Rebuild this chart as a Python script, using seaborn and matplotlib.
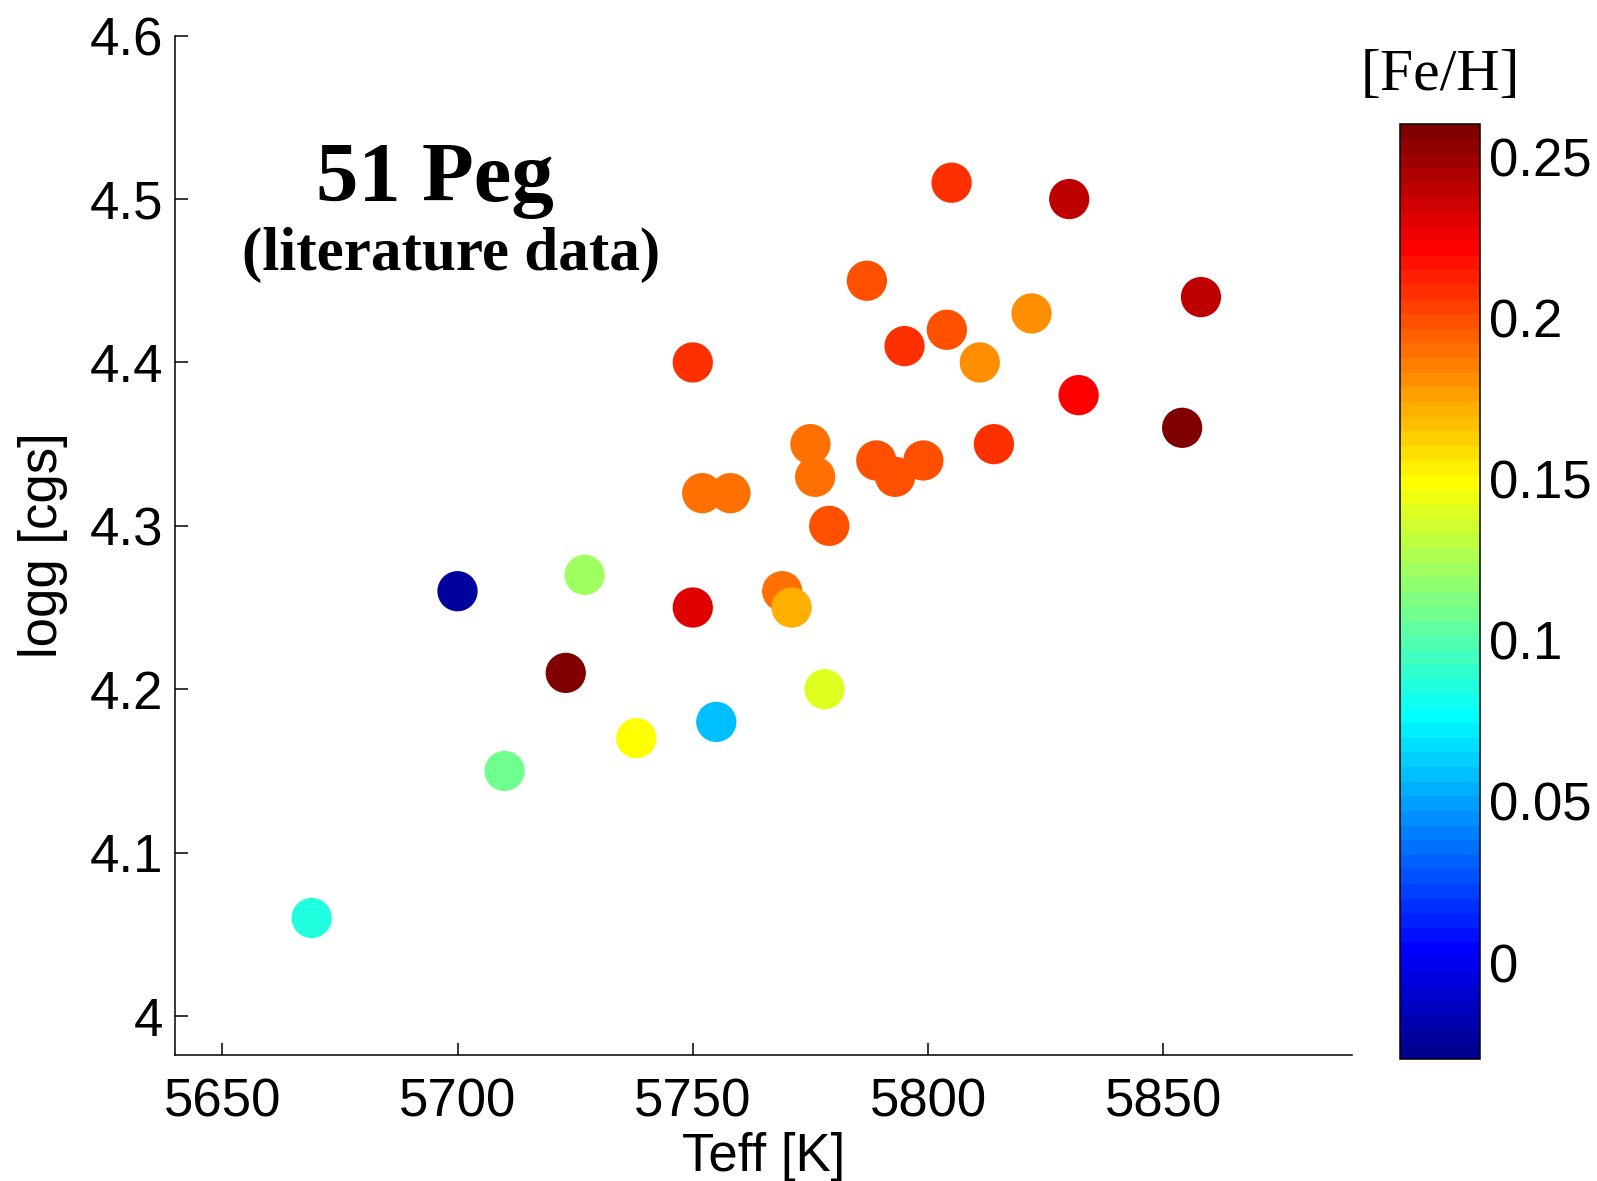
import numpy as np
import pandas as pd
import matplotlib
matplotlib.use("Agg")
import matplotlib.pyplot as plt
from matplotlib.colors import ListedColormap, Normalize
from matplotlib.cm import ScalarMappable
import seaborn as sns

# Literature determinations of the stellar parameters of 51 Peg
teff = [5669, 5700, 5710, 5723, 5727, 5738, 5750, 5750, 5752, 5758, 5755,
        5769, 5771, 5775, 5776, 5778, 5779, 5787, 5789, 5793, 5795, 5799,
        5804, 5805, 5811, 5814, 5822, 5830, 5832, 5854, 5858]
logg = [4.06, 4.26, 4.15, 4.21, 4.27, 4.17, 4.40, 4.25, 4.32, 4.32, 4.18,
        4.26, 4.25, 4.35, 4.33, 4.20, 4.30, 4.45, 4.34, 4.33, 4.41, 4.34,
        4.42, 4.51, 4.40, 4.35, 4.43, 4.50, 4.38, 4.36, 4.44]
feh = [0.085, -0.025, 0.11, 0.26, 0.12, 0.15, 0.21, 0.23, 0.19, 0.19, 0.06,
       0.19, 0.17, 0.19, 0.19, 0.14, 0.20, 0.20, 0.20, 0.20, 0.21, 0.20,
       0.20, 0.21, 0.18, 0.21, 0.18, 0.24, 0.22, 0.26, 0.24]

x_ticks = [5650, 5700, 5750, 5800, 5850]
y_ticks = [4.0, 4.1, 4.2, 4.3, 4.4, 4.5, 4.6]
y_ticklabels = ["4", "4.1", "4.2", "4.3", "4.4", "4.5", "4.6"]
c_ticks = [0.0, 0.05, 0.10, 0.15, 0.20, 0.25]
c_ticklabels = ["0", "0.05", "0.1", "0.15", "0.2", "0.25"]

df = pd.DataFrame({"Teff": teff, "logg": logg, "FeH": feh})


def classic_jet(m=64):
    """64-level jet colour table in the classic stepped form."""
    n = int(np.ceil(m / 4))
    u = np.concatenate([np.arange(1, n + 1) / n, np.ones(n - 1),
                        np.arange(n, 0, -1) / n])
    g = int(np.ceil(n / 2)) - (1 if m % 4 == 1 else 0) + np.arange(1, len(u) + 1)
    r = g + n
    b = g - n
    lut = np.zeros((m, 3))
    for chan, idx in ((0, r), (1, g), (2, b)):
        keep = (idx >= 1) & (idx <= m)
        lut[idx[keep] - 1, chan] = u[keep]
    return ListedColormap(lut, name="jet64")


cmap = classic_jet(64)
norm = Normalize(vmin=-0.03, vmax=0.26)

sns.set_theme(style="white")
plt.rcParams["font.family"] = ["Liberation Sans", "DejaVu Sans"]
plt.rcParams["axes.linewidth"] = 1.1

fig = plt.figure(figsize=(15.97, 11.81), dpi=100)
ax = fig.add_axes([0.1097, 0.1065, 0.7366, 0.8633])
cax = fig.add_axes([0.8769, 0.1031, 0.0498, 0.7916])

sns.scatterplot(data=df, x="Teff", y="logg", hue="FeH", palette=cmap,
                hue_norm=norm, s=840, linewidth=0, edgecolor="none",
                alpha=1.0, legend=False, ax=ax)

ax.set_xlim(5640, 5890)
ax.set_ylim(3.976, 4.6)
ax.set_xticks(x_ticks)
ax.set_xticklabels([str(t) for t in x_ticks])
ax.set_yticks(y_ticks)
ax.set_yticklabels(y_ticklabels)

for side in ("top", "right"):
    ax.spines[side].set_visible(False)
for side in ("left", "bottom"):
    ax.spines[side].set_color("black")
    ax.spines[side].set_linewidth(1.1)

ax.tick_params(axis="both", direction="in", length=9, width=1.1,
               colors="black", labelsize=38)
ax.tick_params(axis="x", pad=16, bottom=True)
ax.tick_params(axis="y", pad=8.5, left=True)

ax.set_xlabel("Teff [K]", fontsize=38, color="black")
ax.set_ylabel("logg [cgs]", fontsize=38, color="black")
ax.xaxis.set_label_coords(0.5, -0.075)
ax.yaxis.set_label_coords(-0.091, 0.5)

ax.text(0.221, 0.838, "51 Peg", transform=ax.transAxes, ha="center",
        va="baseline", fontsize=61, fontweight="bold",
        family=["Liberation Serif", "DejaVu Serif"], color="black")
ax.text(0.2345, 0.770, "(literature data)", transform=ax.transAxes,
        ha="center", va="baseline", fontsize=44, fontweight="bold",
        family=["Liberation Serif", "DejaVu Serif"], color="black")

# Colour bar for the metallicity
sm = ScalarMappable(norm=norm, cmap=cmap)
cbar = fig.colorbar(sm, cax=cax, ticks=c_ticks)
cbar.ax.set_yticklabels(c_ticklabels)
cbar.outline.set_linewidth(1.1)
cbar.outline.set_edgecolor("black")
cbar.ax.tick_params(direction="in", length=11, width=1.1, left=True,
                    right=True, labelleft=False, labelright=True,
                    labelsize=38, pad=6.5, colors="black")
cbar.ax.text(0.5, 1.037, "[Fe/H]", transform=cbar.ax.transAxes,
             ha="center", va="baseline", fontsize=43,
             family=["Liberation Serif", "DejaVu Serif"], color="black")

fig.savefig("out.png", dpi=100, facecolor="white")
